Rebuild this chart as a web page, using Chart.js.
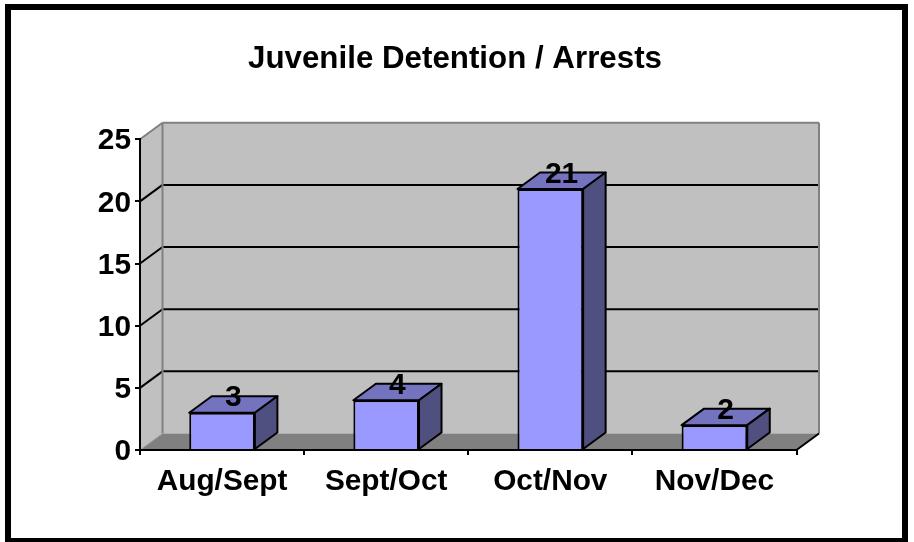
<!DOCTYPE html>
<html><head><meta charset="utf-8">
<script src="https://cdn.jsdelivr.net/npm/chart.js@4"></script>
<style>
html,body{margin:0;padding:0;background:#fff;overflow:hidden;width:914px;height:542px}
#c{position:absolute;left:0;top:0}
#frame{position:absolute;left:5px;top:4px;width:891px;height:528px;border:6px solid #000;pointer-events:none}
</style></head><body>
<canvas id="c" width="914" height="542"></canvas>
<div id="frame"></div>
<script>
const chartTitle = 'Juvenile Detention / Arrests';
const categories = ['Aug/Sept', 'Sept/Oct', 'Oct/Nov', 'Nov/Dec'];
const arrests = [3, 4, 21, 2];
const yMax = 25;
const yStep = 5;

const DX = 22.5, DY = -16.5;
const FONT = '"Liberation Sans", Arial, sans-serif';

function poly(ctx, pts, fill, stroke, lw) {
  ctx.beginPath();
  pts.forEach((p, i) => i ? ctx.lineTo(p[0], p[1]) : ctx.moveTo(p[0], p[1]));
  ctx.closePath();
  if (fill) { ctx.fillStyle = fill; ctx.fill(); }
  if (stroke) { ctx.strokeStyle = stroke; ctx.lineWidth = lw; ctx.lineJoin = 'round'; ctx.stroke(); }
}
function line(ctx, x1, y1, x2, y2, color, lw) {
  ctx.beginPath(); ctx.moveTo(x1, y1); ctx.lineTo(x2, y2);
  ctx.strokeStyle = color; ctx.lineWidth = lw; ctx.stroke();
}

const box3d = {
  id: 'box3d',
  afterLayout(chart) {
    // room for the tick labels, which Chart.js clips to the scale box
    chart.scales.y.left = 60;
  },
  beforeDraw(chart) {
    const { ctx, scales: { x, y } } = chart;
    const l = x.left, r = x.right, t = y.top, b = y.bottom;
    ctx.save();
    poly(ctx, [[l + DX, t + DY], [r + DX, t + DY], [r + DX, b + DY], [l + DX, b + DY]], '#C0C0C0');
    poly(ctx, [[l, t], [l + DX, t + DY], [l + DX, b + DY], [l, b]], '#C0C0C0');
    poly(ctx, [[l, b], [l + DX, b + DY], [r + DX, b + DY], [r, b]], '#808080');
    for (let v = yStep; v < yMax; v += yStep) {
      const py = y.getPixelForValue(v);
      line(ctx, l, py, l + DX, py + DY, '#000', 2);
      line(ctx, l + DX, py + DY, r + DX, py + DY, '#000', 2);
    }
    line(ctx, l, t, l + DX, t + DY, '#808080', 2);
    line(ctx, l + DX, t + DY, r + DX, t + DY, '#808080', 2);
    line(ctx, l + DX, t + DY, l + DX, b + DY, '#808080', 2);
    line(ctx, r + DX, t + DY, r + DX, b + DY, '#808080', 2);
    line(ctx, l, b, l + DX, b + DY, '#A0A0A0', 1);
    line(ctx, r, b, r + DX, b + DY, '#000', 2);
    ctx.restore();
  },
  beforeDatasetsDraw(chart) {
    const ctx = chart.ctx;
    ctx.save();
    chart.getDatasetMeta(0).data.forEach(el => {
      const L = el.x - el.width / 2, R = el.x + el.width / 2;
      poly(ctx, [[L, el.y], [L + DX, el.y + DY], [R + DX, el.y + DY], [R, el.y]], '#7373BF', '#000', 2);
      poly(ctx, [[R, el.y], [R + DX, el.y + DY], [R + DX, el.base + DY], [R, el.base]], '#4F4F80', '#000', 2);
    });
    ctx.restore();
  },
  afterDraw(chart) {
    const ctx = chart.ctx;
    ctx.save();
    ctx.fillStyle = '#000';
    ctx.font = 'bold 30px ' + FONT;
    ctx.textAlign = 'center';
    ctx.textBaseline = 'middle';
    chart.getDatasetMeta(0).data.forEach((el, i) => {
      ctx.fillText(String(arrests[i]), el.x + DX / 2, el.y - 14.5);
    });
    ctx.restore();
  }
};

new Chart(document.getElementById('c'), {
  type: 'bar',
  data: {
    labels: categories,
    datasets: [{
      data: arrests,
      backgroundColor: '#9999FF',
      borderColor: '#000',
      borderWidth: 2,
      categoryPercentage: 1,
      barPercentage: 0.4,
      clip: false
    }]
  },
  plugins: [box3d],
  options: {
    responsive: false,
    animation: false,
    layout: { padding: { left: 113.5, right: 117.5, top: 0, bottom: 0 } },
    plugins: {
      legend: { display: false },
      tooltip: { enabled: false },
      title: {
        display: true,
        text: chartTitle,
        color: '#000',
        font: { family: FONT, size: 31.3, weight: 'bold', lineHeight: 1.2 },
        padding: { top: 41, bottom: 60.7 }
      }
    },
    scales: {
      x: {
        afterFit(s) { s.height = 92; },
        border: { display: true, color: '#000', width: 2 },
        grid: { display: true, drawOnChartArea: false, drawTicks: true, tickLength: 5, color: '#000', lineWidth: 2 },
        ticks: { color: '#000', font: { family: FONT, size: 29.8, weight: 'bold' }, maxRotation: 0, minRotation: 0, autoSkip: false, padding: 9 }
      },
      y: {
        min: 0,
        max: yMax,
        afterFit(s) { s.width = 26.5; },
        border: { display: true, color: '#000', width: 2 },
        grid: { display: true, drawOnChartArea: false, drawTicks: true, tickLength: 5, color: '#000', lineWidth: 2 },
        ticks: { stepSize: yStep, color: '#000', font: { family: FONT, size: 29.8, weight: 'bold' }, padding: 4, labelOffset: 2 }
      }
    }
  }
});
</script>
</body></html>
